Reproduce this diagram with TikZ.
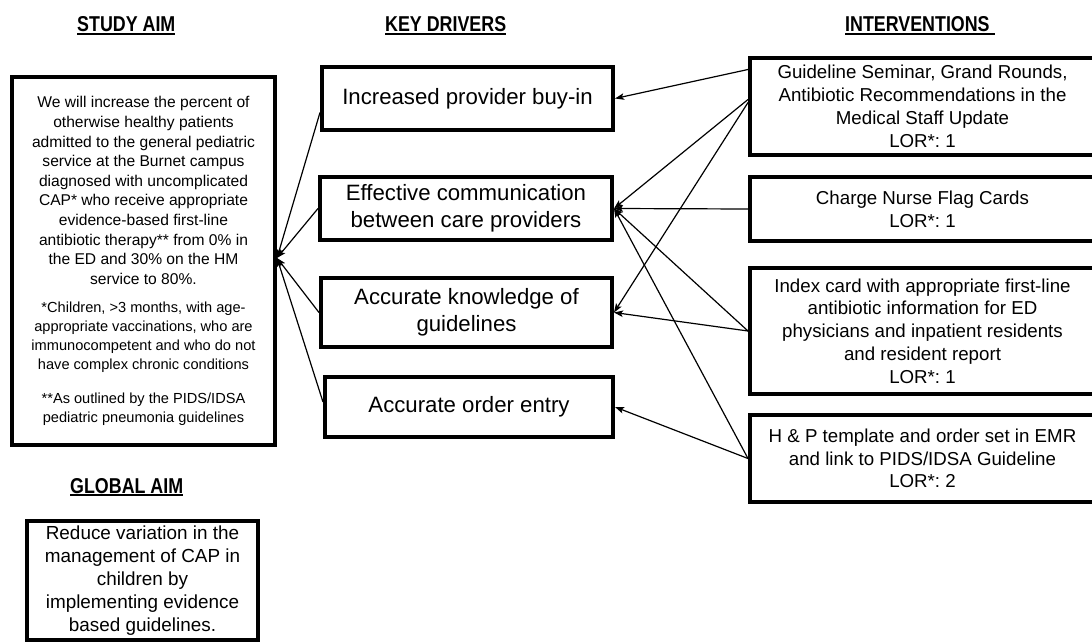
\documentclass[tikz,border=0pt]{standalone}
\usepackage{fontspec}
\setmainfont{Liberation Sans}
\newfontfamily\hdrfont[FakeStretch=0.83]{Liberation Sans}
\usetikzlibrary{arrows.meta,calc}
\newcommand\hdrul[1]{\setbox0\hbox{#1}\leavevmode\rlap{\rule[-3pt]{\wd0}{1.8pt}}\box0}
\frenchspacing
\begin{document}
\begin{tikzpicture}[x=1pt,y=-1pt,
  dbox/.style={draw=black,line width=4pt,rectangle,inner sep=0pt,align=center},
  hdrtxt/.style={inner sep=0pt,anchor=base west,font={\hdrfont\bfseries\fontsize{21.5}{24}\selectfont}},
  satxt/.style={inner sep=0pt,align=center,font={\fontsize{15.6}{19.6}\selectfont}},
  fntxt/.style={inner sep=0pt,align=center,font={\fontsize{14.6}{19}\selectfont}},
  kdtxt/.style={font={\fontsize{22.2}{27}\selectfont}},
  ivtxt/.style={font={\fontsize{18.7}{22.8}\selectfont}},
  gatxt/.style={font={\fontsize{18.9}{23}\selectfont}},
  conn/.style={draw=black,line width=1.2pt,-{Stealth[length=9pt,width=6.5pt,inset=2pt]}}]
\useasboundingbox (0,0) rectangle (1092,642);
% headers
\node[hdrtxt] (h1) at (77,32) {\hdrul{STUDY AIM}};
\node[hdrtxt] (h2) at (385,32) {\hdrul{KEY DRIVERS}};
\node[hdrtxt] (h3) at (845,32) {\hdrul{INTERVENTIONS\ }};
\node[hdrtxt] (h4) at (70,493) {\hdrul{GLOBAL AIM}};
% study aim
\node[dbox,minimum width=263,minimum height=368] (sa) at (143.5,261) {};
\node[satxt] (sa1) at (143.5,190.5) {We will increase the percent of\\otherwise healthy patients\\admitted to the general pediatric\\service at the Burnet campus\\diagnosed with uncomplicated\\CAP* who receive appropriate\\evidence-based first-line\\antibiotic therapy** from 0\% in\\the ED and 30\% on the HM\\service to 80\%.};
\node[fntxt] (sa2) at (143.5,337.5) {*Children, >3 months, with age-\\appropriate vaccinations, who are\\immunocompetent and who do not\\have complex chronic conditions};
\node[fntxt] (sa3) at (143.5,409) {**As outlined by the PIDS/IDSA\\pediatric pneumonia guidelines};
% global aim
\node[dbox,gatxt,minimum width=231,minimum height=119] (ga) at (142.5,580.5) {Reduce variation in the\\management of CAP in\\children by\\implementing evidence\\based guidelines.};
% key drivers
\node[dbox,kdtxt,minimum width=291,minimum height=63] (kd1) at (467.5,98.5) {Increased provider buy-in};
\node[dbox,kdtxt,minimum width=292,minimum height=63] (kd2) at (466,208.5) {Effective communication\\between care providers};
\node[dbox,kdtxt,minimum width=291,minimum height=69] (kd3) at (466.5,312.5) {Accurate knowledge of\\guidelines};
\node[dbox,kdtxt,minimum width=288,minimum height=60] (kd4) at (469,407) {Accurate order entry};
% interventions
\node[dbox,ivtxt,minimum width=345,minimum height=97] (i1) at (922.5,106.5) {Guideline Seminar, Grand Rounds,\\Antibiotic Recommendations in the\\Medical Staff Update\\LOR*: 1};
\node[dbox,ivtxt,minimum width=345,minimum height=64] (i2) at (922.5,209) {Charge Nurse Flag Cards\\LOR*: 1};
\node[dbox,ivtxt,minimum width=345,minimum height=126] (i3) at (922.5,331) {Index card with appropriate first-line\\antibiotic information for ED\\physicians and inpatient residents\\and resident report\\LOR*: 1};
\node[dbox,ivtxt,minimum width=345,minimum height=87] (i4) at (922.5,458.5) {H \& P template and order set in EMR\\and link to PIDS/IDSA Guideline\\LOR*: 2};
% connectors: drivers to aim
\draw[conn] ([yshift=-14pt]kd1.west) -- ([yshift=3pt]sa.east);
\draw[conn] (kd2.west) -- ([yshift=3pt]sa.east);
\draw[conn] (kd3.west) -- ([yshift=3pt]sa.east);
\draw[conn] ([yshift=5pt]kd4.west) -- ([yshift=3pt]sa.east);
% connectors: interventions to drivers
\draw[conn] ([yshift=37pt]i1.west) -- (kd1.east);
\draw[conn] ([yshift=7pt]i1.west) -- (kd2.east);
\draw[conn] ([yshift=4pt]i1.west) -- (kd3.east);
\draw[conn] (i2.west) -- (kd2.east);
\draw[conn] (i3.west) -- (kd2.east);
\draw[conn] (i3.west) -- (kd3.east);
\draw[conn] (i4.west) -- (kd2.east);
\draw[conn] (i4.west) -- (kd4.east);
\end{tikzpicture}
\end{document}
